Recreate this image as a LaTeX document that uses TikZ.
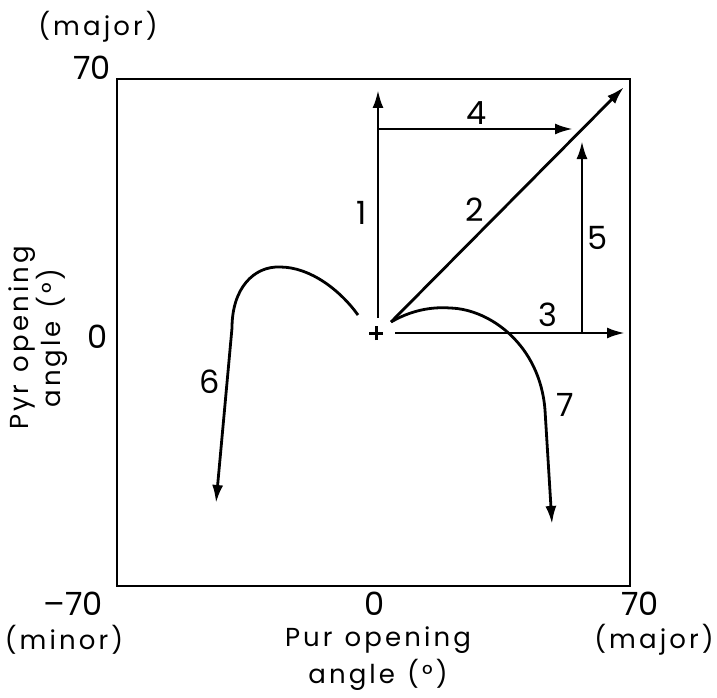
\documentclass[tikz,border=0pt]{standalone}
\usepackage{fontspec}
\usetikzlibrary{arrows.meta}
\newfontfamily\lblfont[LetterSpace=12]{Poppins}
\newfontfamily\numfont{Poppins}
\begin{document}
\begin{tikzpicture}[x=1pt,y=-1pt,
  frame/.style={line width=2.8pt},
  traj/.style={line width=2.8pt,-{Latex[length=18pt,width=11pt]}},
  num/.style={font=\numfont\fontsize{32}{34}\selectfont,inner sep=0pt},
  lbl/.style={font=\lblfont\fontsize{26}{37}\selectfont,inner sep=0pt,align=center},
]
\useasboundingbox (0,0) rectangle (717,698);
% frame
\coordinate (bl) at (117,586);
\coordinate (tr) at (630,79);
\draw[frame] (bl) rectangle (tr);
% origin marker
\coordinate (O) at (376,333);
\draw[line width=3pt] ([xshift=-7pt]O) -- ([xshift=7pt]O);
\draw[line width=3pt] ([yshift=-7pt]O) -- ([yshift=7pt]O);
% trajectory points
\coordinate (a1s) at (378,318);
\coordinate (a1e) at (378,90);
\coordinate (a4s) at (378,129);
\coordinate (a4e) at (573,129);
\coordinate (a2s) at (391,322);
\coordinate (a2e) at (624,87);
\coordinate (a3s) at (395,333);
\coordinate (a3e) at (625,333);
\coordinate (a5s) at (582,333);
\coordinate (a5e) at (582,141);
\coordinate (c7a) at (450,308);
\coordinate (c7b) at (545,410);
\coordinate (c7e) at (552,524);
\coordinate (c6s) at (358,315);
\coordinate (c6a) at (280,267);
\coordinate (c6b) at (232,328);
\coordinate (c6e) at (216,503);
% straight trajectories
\draw[traj] (a1s) -- (a1e);
\draw[traj] (a4s) -- (a4e);
\draw[traj] (a2s) -- (a2e);
\draw[traj] (a3s) -- (a3e);
\draw[traj] (a5s) -- (a5e);
% curved trajectories
\draw[traj] (a2s) .. controls (415,308) and (437,307) .. (c7a)
  .. controls (490,309) and (540,345) .. (c7b) -- (c7e);
\draw[traj] (c6s) .. controls (340,290) and (310,267) .. (c6a)
  .. controls (254,266) and (232,288) .. (c6b) -- (c6e);
% path labels
\node[num] (n1) at (362,213) {1};
\node[num] (n2) at (475,210) {2};
\node[num] (n3) at (548,315) {3};
\node[num] (n4) at (477,113) {4};
\node[num] (n5) at (598,238) {5};
\node[num] (n6) at (210,382) {6};
\node[num] (n7) at (565,405) {7};
% axis numbers
\node[num] (ytop) at (92,68) {70};
\node[num] (yzero) at (98,337) {0};
\node[num] (xmin) at (73,604) {–70};
\node[num] (xzero) at (375,604) {0};
\node[num] (xmax) at (640,604) {70};
% axis words
\node[lbl] (ymajor) at (98,27) {(major)};
\node[lbl] (xminor) at (64,640) {(minor)};
\node[lbl] (xmajor) at (654,640) {(major)};
\node[lbl] (xtitle) at (378,659) {Pur\hspace{12pt}opening\\angle\hspace{12pt}(°)};
\node[lbl,rotate=90,font=\lblfont\fontsize{26}{27}\selectfont] (ytitle) at (38,338) {Pyr\hspace{12pt}opening\\angle\hspace{12pt}(°)};
\end{tikzpicture}
\end{document}
